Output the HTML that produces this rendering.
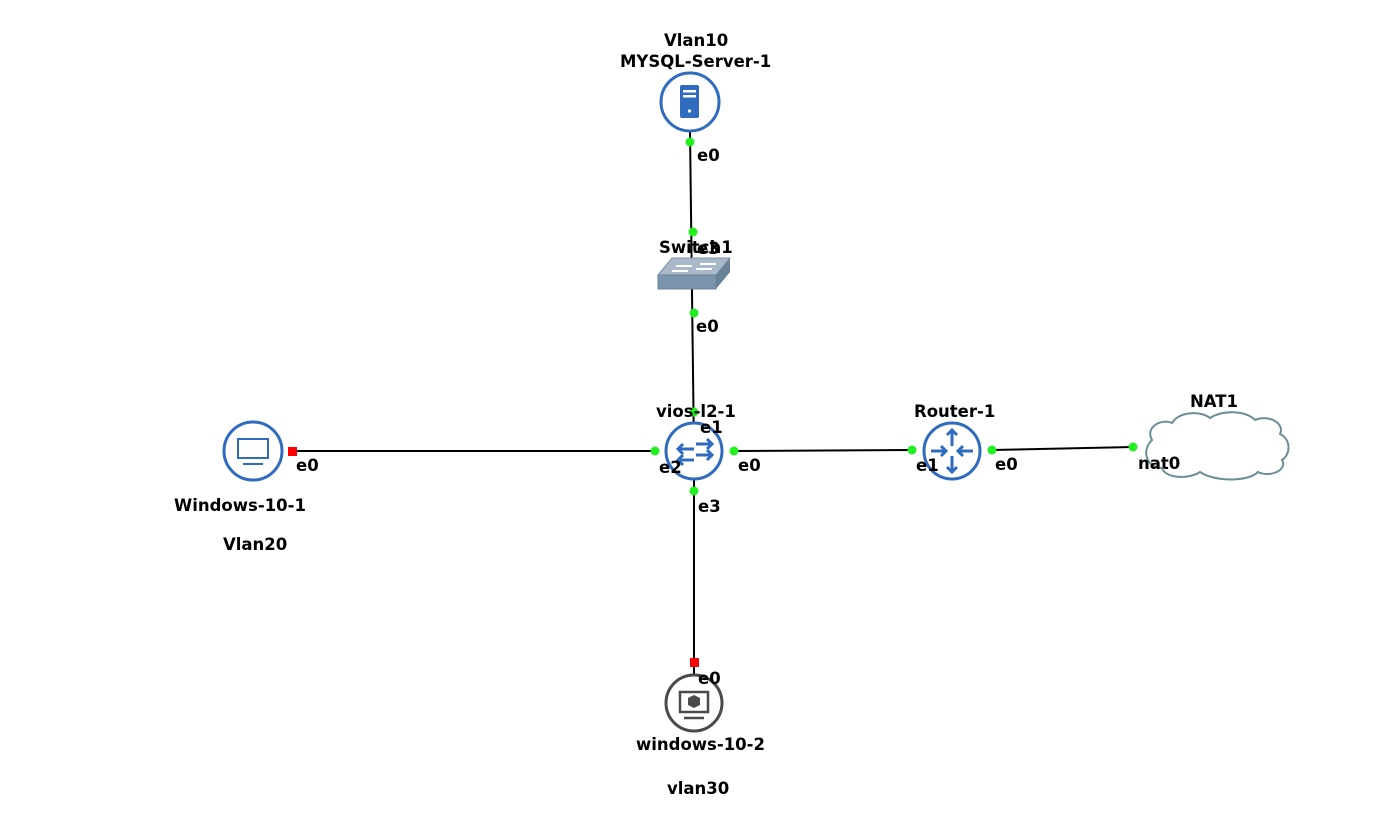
<!DOCTYPE html>
<html><head><meta charset="utf-8"><style>
html,body{margin:0;padding:0;background:#fff;}
svg{display:block}
text{font-family:"DejaVu Sans","Liberation Sans",sans-serif;font-weight:bold;font-size:16.5px;fill:#000}
</style></head><body>
<svg width="1390" height="817" viewBox="0 0 1390 817" xmlns="http://www.w3.org/2000/svg">
<g stroke="#000" stroke-width="2" fill="none">
<line x1="690" y1="132" x2="694" y2="452"/>
<line x1="292" y1="451" x2="655" y2="451"/>
<line x1="734" y1="451" x2="912" y2="450"/>
<line x1="992" y1="450" x2="1133" y2="447"/>
<line x1="694" y1="480" x2="694" y2="675"/>
</g>
<g>
<polygon points="658,275 672,258 730,258 716,275" fill="#a9b9c9" stroke="#7f93a8"/>
<polygon points="658,275 716,275 716,289 658,289" fill="#7b95ad" stroke="#6a8299"/>
<polygon points="716,275 730,258 730,272 716,289" fill="#6a8299"/>
<g stroke="#fff" stroke-width="2"><line x1="676" y1="266" x2="692" y2="266"/><line x1="700" y1="264" x2="716" y2="264"/><line x1="672" y1="271" x2="688" y2="271"/><line x1="696" y1="269" x2="712" y2="269"/></g>
</g>
<circle cx="690" cy="102" r="29" fill="#fff" stroke="#2f6bbf" stroke-width="3"/>
<rect x="680" y="85" width="19" height="33" rx="2" fill="#2f6bbf"/>
<rect x="683" y="90" width="13" height="2.5" fill="#fff"/><rect x="683" y="95" width="13" height="2.5" fill="#fff"/>
<circle cx="689.5" cy="111" r="1.6" fill="#fff"/>
<circle cx="694" cy="451" r="28" fill="#fff" stroke="#2f6bbf" stroke-width="3"/>
<g stroke="#2f6bbf" stroke-width="3" fill="none">
<line x1="696" y1="444" x2="712" y2="444"/><polyline points="707,439 712,444 707,449"/>
<line x1="696" y1="455" x2="712" y2="455"/><polyline points="707,450 712,455 707,460"/>
<line x1="678" y1="449" x2="694" y2="449"/><polyline points="683,444 678,449 683,454"/>
<line x1="678" y1="460" x2="694" y2="460"/><polyline points="683,455 678,460 683,465"/>
</g>
<circle cx="952" cy="451" r="28" fill="#fff" stroke="#2f6bbf" stroke-width="3"/>
<g stroke="#2f6bbf" stroke-width="3" fill="none">
<line x1="952" y1="446" x2="952" y2="430"/><polyline points="947,435 952,430 957,435"/>
<line x1="952" y1="456" x2="952" y2="472"/><polyline points="947,467 952,472 957,467"/>
<line x1="931" y1="451" x2="946" y2="451"/><polyline points="941,446 946,451 941,456"/>
<line x1="973" y1="451" x2="958" y2="451"/><polyline points="963,446 958,451 963,456"/>
</g>
<circle cx="253" cy="451" r="29" fill="#fff" stroke="#2f6bbf" stroke-width="3"/>
<rect x="238" y="439" width="30" height="19" fill="none" stroke="#2f6bbf" stroke-width="2"/>
<line x1="243" y1="464" x2="263" y2="464" stroke="#2f6bbf" stroke-width="2"/>
<circle cx="694" cy="703" r="28" fill="#fff" stroke="#4a4a4a" stroke-width="3"/>
<rect x="680" y="692" width="28" height="20" fill="none" stroke="#4a4a4a" stroke-width="2.5"/>
<polygon points="694,695 700,698 700,705 694,708 688,705 688,698" fill="#4a4a4a"/>
<line x1="684" y1="718" x2="704" y2="718" stroke="#4a4a4a" stroke-width="2.5"/>
<path d="M1152,440 C1145,428 1160,418 1172,423 C1178,412 1200,410 1210,418 C1222,410 1245,410 1255,420 C1270,414 1285,424 1280,434 C1292,440 1290,455 1282,460 C1288,470 1270,478 1258,472 C1248,482 1215,482 1200,472 C1188,480 1165,478 1162,468 C1148,468 1140,452 1152,440 Z" fill="#fff" stroke="#6b8e96" stroke-width="2"/>
<g fill="#22ee22">
<circle cx="690" cy="142" r="4.5"/><circle cx="693" cy="232" r="4.5"/><circle cx="694" cy="313" r="4.5"/>
<circle cx="694" cy="412" r="4.5"/><circle cx="655" cy="451" r="4.5"/><circle cx="734" cy="451" r="4.5"/><circle cx="694" cy="491" r="4.5"/>
<circle cx="912" cy="450" r="4.5"/><circle cx="992" cy="450" r="4.5"/><circle cx="1133" cy="447" r="4.5"/>
</g>
<g fill="#ff0000"><rect x="288" y="447" width="9" height="9"/><rect x="690" y="658" width="9" height="9"/></g>
<text x="664" y="46">Vlan10</text>
<text x="620" y="67">MYSQL-Server-1</text>
<text x="697" y="161">e0</text>
<text x="659" y="253">Switch1</text>
<text x="697" y="254">e3</text>
<text x="696" y="332">e0</text>
<text x="656" y="417">vios-l2-1</text>
<text x="700" y="433">e1</text>
<text x="659" y="473">e2</text>
<text x="738" y="471">e0</text>
<text x="698" y="512">e3</text>
<text x="914" y="417">Router-1</text>
<text x="916" y="471">e1</text>
<text x="995" y="470">e0</text>
<text x="1190" y="407">NAT1</text>
<text x="1138" y="469">nat0</text>
<text x="296" y="471">e0</text>
<text x="174" y="511">Windows-10-1</text>
<text x="223" y="550">Vlan20</text>
<text x="698" y="684">e0</text>
<text x="636" y="750">windows-10-2</text>
<text x="667" y="794">vlan30</text>
</svg>
</body></html>
